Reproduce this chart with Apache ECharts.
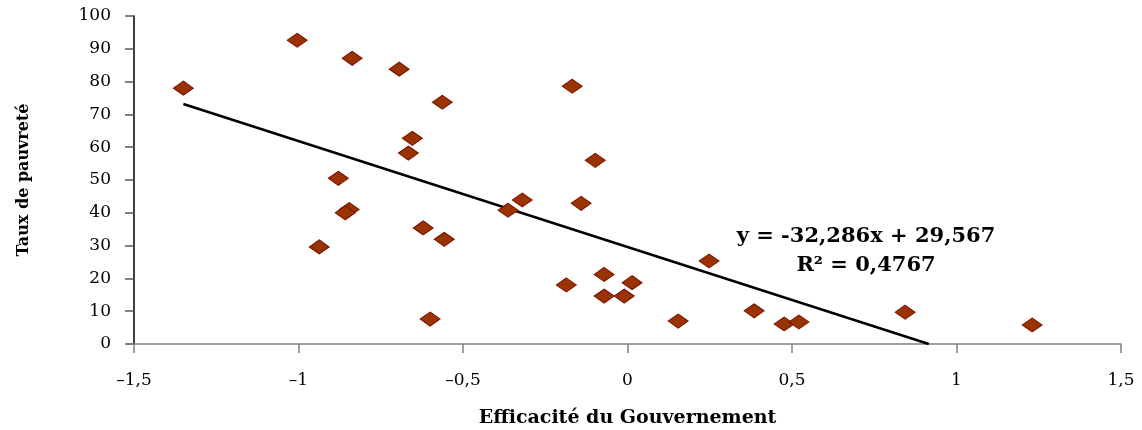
<!DOCTYPE html>
<html>
<head>
<meta charset="utf-8">
<script src="https://cdn.jsdelivr.net/npm/echarts@6/dist/echarts.min.js"></script>
<style>
  html, body { margin: 0; padding: 0; background: #fff; }
  #chart { width: 1142px; height: 430px; }
</style>
</head>
<body>
<div id="chart"></div>
<script>
// efficacité du gouvernement (x) / taux de pauvreté (y)
var efficacite = [-1.350, -1.004, -0.837, -0.694, -0.563, -0.168, -0.654, -0.666, -0.098, -0.879,
                  -0.846, -0.858, -0.320, -0.363, -0.141, -0.937, -0.621, -0.557, -0.071, 0.014,
                  -0.186, -0.071, -0.010, 0.248, -0.600, 0.154, 0.385, 0.476, 0.521, 0.844, 1.230]
var pauvrete = [78.0, 92.6, 87.1, 83.8, 73.7, 78.6, 62.7, 58.2, 56.0, 50.5,
                41.0, 40.0, 43.9, 40.8, 42.9, 29.6, 35.4, 31.9, 21.2, 18.7,
                18.0, 14.6, 14.6, 25.3, 7.6, 7.0, 10.1, 6.1, 6.7, 9.7, 5.8]
// droite de tendance (Excel)
var pente = -32.286
var ordonnee = 29.567
var r2 = 0.4767

var points = efficacite.map(function (x, i) { return [x, pauvrete[i]] })

// la tendance part du plus petit x et s'arrête sur l'axe y = 0
var xDebut = Math.min.apply(null, efficacite)
var xFin = -ordonnee / pente
var tendance = [[xDebut, pente * xDebut + ordonnee], [xFin, 0]]

function fr(v) {
    return String(v).replace('.', ',').replace('-', '\u2013')
}

var chart = echarts.init(document.getElementById('chart'))
var option = {
    backgroundColor: '#fff',
    animation: false,
    grid: { left: 134, right: 21, top: 16, bottom: 86, containLabel: false, outerBoundsMode: 'none' },
    xAxis: {
        type: 'value',
        min: -1.5,
        max: 1.5,
        interval: 0.5,
        name: 'Efficacité du Gouvernement',
        nameLocation: 'middle',
        nameGap: 65,
        nameTextStyle: { fontFamily: 'DejaVu Serif', fontWeight: 'bold', fontSize: 19, color: '#000' },
        axisLine: { onZero: true, lineStyle: { color: '#808080', width: 1.5 } },
        axisTick: { show: true, inside: false, length: 9, lineStyle: { color: '#808080', width: 1.5 } },
        axisLabel: {
            margin: 28,
            fontFamily: 'DejaVu Serif',
            fontSize: 17,
            color: '#000',
            formatter: fr
        },
        splitLine: { show: false }
    },
    yAxis: {
        type: 'value',
        min: 0,
        max: 100,
        interval: 10,
        name: 'Taux de pauvreté',
        nameLocation: 'middle',
        nameGap: 102,
        nameRotate: 90,
        nameTextStyle: { fontFamily: 'DejaVu Serif', fontWeight: 'bold', fontSize: 16, color: '#000' },
        axisLine: { show: true, onZero: false, lineStyle: { color: '#000', width: 1.5 } },
        axisTick: { show: true, inside: false, length: 9, lineStyle: { color: '#555', width: 1.5 } },
        axisLabel: {
            margin: 23,
            fontFamily: 'DejaVu Serif',
            fontSize: 17,
            color: '#000'
        },
        splitLine: { show: false }
    },
    series: [{
        type: 'line',
        data: tendance,
        symbol: 'none',
        lineStyle: { color: '#000', width: 2.5 },
        z: 1
    }, {
        type: 'scatter',
        data: points,
        symbol: 'diamond',
        symbolSize: [20, 14],
        itemStyle: { color: '#993300', borderColor: '#7a1000', borderWidth: 1, opacity: 1 },
        z: 2
    }],
    graphic: [{
        type: 'text',
        x: 866,
        y: 237,
        style: {
            text: 'y = ' + String(pente).replace('.', ',') + 'x + ' + String(ordonnee).replace('.', ','),
            fontFamily: 'DejaVu Serif',
            fontWeight: 'bold',
            fontSize: 21,
            fill: '#000',
            align: 'center',
            verticalAlign: 'middle'
        }
    }, {
        type: 'text',
        x: 866,
        y: 266,
        style: {
            text: 'R\u00b2 = ' + fr(r2),
            fontFamily: 'DejaVu Serif',
            fontWeight: 'bold',
            fontSize: 21,
            fill: '#000',
            align: 'center',
            verticalAlign: 'middle'
        }
    }]
}
chart.setOption(option)
</script>
</body>
</html>
